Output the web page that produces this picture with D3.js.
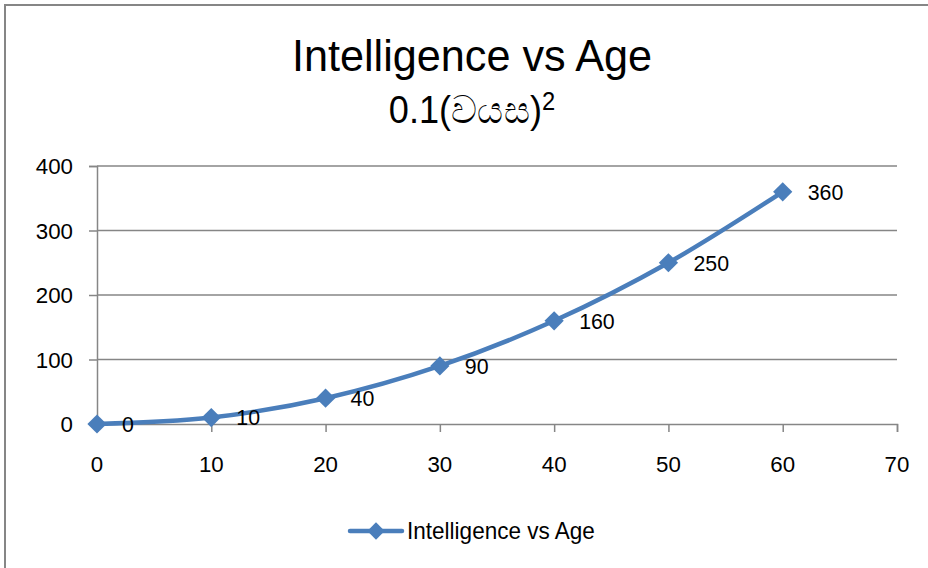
<!DOCTYPE html>
<html>
<head>
<meta charset="utf-8">
<script src="https://cdn.jsdelivr.net/npm/d3@7"></script>
<style>
  html, body { margin: 0; padding: 0; background: #fff; }
  svg { display: block; }
  text { font-family: "Liberation Sans", Arial, sans-serif; fill: #000; }
</style>
</head>
<body>
<svg id="chart" width="928" height="568"></svg>
<script>
// Series: intelligence = 0.1 * age^2
const ages = [0, 10, 20, 30, 40, 50, 60];
const intelligence = [0, 10, 40, 90, 160, 250, 360];
const xTicks = [0, 10, 20, 30, 40, 50, 60, 70];
const yTicks = [0, 100, 200, 300, 400];
const seriesName = "Intelligence vs Age";
const chartTitle = "Intelligence vs Age";
const subtitleBase = "0.1(වයස)";
const subtitleExp = "2";

const svg = d3.select("#chart");
const W = 928, H = 568;
const blue = "#4A7EBB";
const grey = "#868686";

// text drawn slightly condensed horizontally
function label(parent, str, x, y, size, anchor, k) {
  return parent.append("text")
    .attr("transform", `translate(${x},${y}) scale(${k},1)`)
    .attr("text-anchor", anchor)
    .style("font-size", size + "px")
    .text(str);
}

// outer chart frame (runs past the right/bottom edges)
svg.append("rect")
  .attr("x", 5).attr("y", 5)
  .attr("width", W + 10).attr("height", H + 10)
  .attr("fill", "#fff").attr("stroke", grey).attr("stroke-width", 2);

const plot = { left: 97, right: 897, top: 166, bottom: 424 };
const x = d3.scaleLinear().domain([0, 70]).range([plot.left, plot.right]);
const y = d3.scaleLinear().domain([0, 400]).range([plot.bottom, plot.top]);

// titles
label(svg, chartTitle, 472, 71, 45, "middle", 0.96);
const sub = svg.append("text")
  .attr("transform", "translate(472,122.5) scale(0.95,1)")
  .attr("text-anchor", "middle")
  .style("font-size", "38px");
sub.append("tspan").text(subtitleBase);
sub.append("tspan").attr("dy", -13).style("font-size", "25px").text(subtitleExp);

// horizontal gridlines
svg.append("g")
  .selectAll("line")
  .data(yTicks.filter(d => d > 0))
  .join("line")
  .attr("x1", plot.left).attr("x2", plot.right)
  .attr("y1", d => y(d)).attr("y2", d => y(d))
  .attr("stroke", grey).attr("stroke-width", 1.5);

// y axis (line + ticks from d3, labels drawn condensed)
const yAxis = svg.append("g")
  .attr("transform", `translate(${plot.left},0)`)
  .call(d3.axisLeft(y).tickValues(yTicks).tickSize(8).tickFormat(""));
yAxis.select(".domain").attr("stroke", grey).attr("stroke-width", 1.5);
yAxis.selectAll(".tick line").attr("stroke", grey).attr("stroke-width", 1.5);
yTicks.forEach(t => label(svg, d3.format("d")(t), 73, y(t) + 8.2, 23, "end", 0.97));

// x axis
const xAxis = svg.append("g")
  .attr("transform", `translate(0,${plot.bottom})`)
  .call(d3.axisBottom(x).tickValues(xTicks).tickSize(8).tickFormat(""));
xAxis.select(".domain").attr("stroke", grey).attr("stroke-width", 1.5);
xAxis.selectAll(".tick line").attr("stroke", grey).attr("stroke-width", 1.5);
xTicks.forEach(t => label(svg, d3.format("d")(t), x(t), plot.bottom + 47.5, 23, "middle", 0.97));

// smoothed series line
const pts = ages.map((a, i) => [a, intelligence[i]]);
const line = d3.line()
  .x(d => x(d[0])).y(d => y(d[1]))
  .curve(d3.curveCardinal.tension(0));
svg.append("path")
  .datum(pts)
  .attr("d", line)
  .attr("fill", "none")
  .attr("stroke", blue)
  .attr("stroke-width", 4.5)
  .attr("stroke-linecap", "round");

// diamond markers
const marker = d3.symbol().type(d3.symbolSquare).size(185);
svg.append("g")
  .selectAll("path")
  .data(pts)
  .join("path")
  .attr("transform", d => `translate(${x(d[0])},${y(d[1])}) rotate(45)`)
  .attr("d", marker)
  .attr("fill", blue);

// data labels
const dl = svg.append("g");
pts.forEach(d => label(dl, String(d[1]), x(d[0]) + 25, y(d[1]) + 7.8, 22, "start", 0.97));

// legend
const lg = svg.append("g");
lg.append("line")
  .attr("x1", 350).attr("x2", 402).attr("y1", 531).attr("y2", 531)
  .attr("stroke", blue).attr("stroke-width", 4.5).attr("stroke-linecap", "round");
lg.append("path")
  .attr("transform", "translate(376,531) rotate(45)")
  .attr("d", d3.symbol().type(d3.symbolSquare).size(150))
  .attr("fill", blue);
label(lg, seriesName, 407, 539.3, 24.5, "start", 0.92);
</script>
</body>
</html>
